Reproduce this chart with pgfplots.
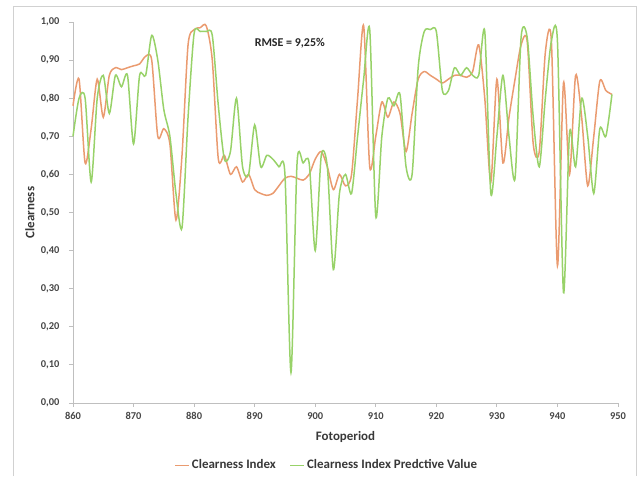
\documentclass[border=0pt]{standalone}
\usepackage{fontspec}
\setmainfont{Carlito}
\usepackage{pgfplots}
\pgfplotsset{compat=1.18}
\usepackage{pgfplotstable}
\definecolor{ciorange}{RGB}{234,155,112}
\definecolor{cigreen}{RGB}{152,210,105}
\definecolor{axgray}{RGB}{191,191,191}
\definecolor{txtgray}{RGB}{70,70,70}
\pgfplotstableread{
x o g
860 0.78 0.70
861 0.85 0.80
862 0.63 0.80
863 0.72 0.58
864 0.85 0.80
865 0.75 0.86
866 0.86 0.76
867 0.88 0.86
868 0.875 0.83
869 0.88 0.86
870 0.885 0.68
871 0.89 0.86
872 0.91 0.86
873 0.90 0.965
874 0.70 0.90
875 0.72 0.77
876 0.68 0.70
877 0.48 0.55
878 0.65 0.46
879 0.94 0.75
880 0.98 0.97
881 0.985 0.975
882 0.99 0.975
883 0.90 0.965
884 0.64 0.78
885 0.65 0.64
886 0.60 0.66
887 0.62 0.80
888 0.58 0.62
889 0.60 0.60
890 0.56 0.73
891 0.55 0.62
892 0.545 0.65
893 0.55 0.64
894 0.57 0.62
895 0.59 0.60
896 0.595 0.08
897 0.59 0.63
898 0.585 0.63
899 0.60 0.63
900 0.64 0.40
901 0.66 0.65
902 0.62 0.62
903 0.56 0.35
904 0.60 0.55
905 0.57 0.60
906 0.60 0.55
907 0.80 0.70
908 0.99 0.85
909 0.62 0.98
910 0.70 0.49
911 0.79 0.70
912 0.75 0.80
913 0.79 0.78
914 0.76 0.81
915 0.66 0.62
916 0.76 0.60
917 0.85 0.88
918 0.87 0.975
919 0.86 0.98
920 0.85 0.975
921 0.84 0.82
922 0.85 0.82
923 0.86 0.88
924 0.86 0.86
925 0.855 0.88
926 0.87 0.86
927 0.94 0.86
928 0.80 0.975
929 0.58 0.55
930 0.85 0.70
931 0.63 0.86
932 0.75 0.70
933 0.85 0.59
934 0.94 0.96
935 0.95 0.96
936 0.68 0.75
937 0.66 0.62
938 0.92 0.80
939 0.95 0.95
940 0.36 0.95
941 0.84 0.29
942 0.60 0.71
943 0.86 0.62
944 0.75 0.80
945 0.57 0.70
946 0.70 0.55
947 0.845 0.72
948 0.82 0.70
949 0.81 0.81
}\datatable
\begin{document}
\begin{tikzpicture}
\path (0bp,0bp) rectangle (642bp,474bp);
\draw[color=black!18, line width=1bp] (13.5bp,-2bp) -- (13.5bp,467bp) -- (636bp,467bp) -- (636bp,-2bp);
\begin{axis}[
  at={(73bp,71bp)}, anchor=south west,
  scale only axis, width=545bp, height=381bp,
  xmin=860, xmax=950, ymin=0, ymax=1,
  xtick={860,870,...,950},
  ytick={0,0.1,...,1.0001},
  axis lines=left,
  axis line style={-, color=axgray, line width=0.8bp},
  tick style={color=axgray, line width=0.8bp},
  tick align=outside,
  major tick length=4bp,
  /pgf/number format/.cd, fixed, fixed zerofill, precision=2, use comma, assume math mode=true,
  /pgfplots/.cd,
  xticklabel={\pgfmathprintnumber[fixed, precision=0]{\tick}},
  ticklabel style={font=\fontsize{10.5}{12}\selectfont\bfseries, text=txtgray},
  xticklabel style={yshift=-2bp},
  yticklabel style={xshift=-6bp},
  xlabel={Fotoperiod},
  ylabel={Clearness},
  label style={font=\fontsize{13}{15}\selectfont\bfseries, text=txtgray!80!black},
  xlabel style={at={(axis description cs:0.5,-0.089)}, anchor=center},
  ylabel style={at={(axis description cs:-0.079,0.5)}, anchor=center},
  legend columns=2,
  legend style={at={(axis description cs:0.466,-0.163)}, anchor=center, draw=none, fill=none,
    font=\fontsize{13}{15}\selectfont\bfseries, text=txtgray!80!black,
    /tikz/every even column/.append style={column sep=12bp}},
  legend image code/.code={\draw[#1, line width=1.2bp] (0bp,0bp) -- (14bp,0bp);},
  clip=false,
]
\addplot[color=ciorange, line width=1.5bp, smooth, tension=0.45, no markers] table[x=x, y=o] {\datatable};
\addlegendentry{Clearness Index}
\addplot[color=cigreen, line width=1.5bp, smooth, tension=0.45, no markers] table[x=x, y=g] {\datatable};
\addlegendentry{Clearness Index Predctive Value}
\node[font=\fontsize{12}{14}\selectfont\bfseries, text=black!85] at (axis cs:895.8,0.944) {RMSE = 9,25\%};
\end{axis}
\end{tikzpicture}
\end{document}
